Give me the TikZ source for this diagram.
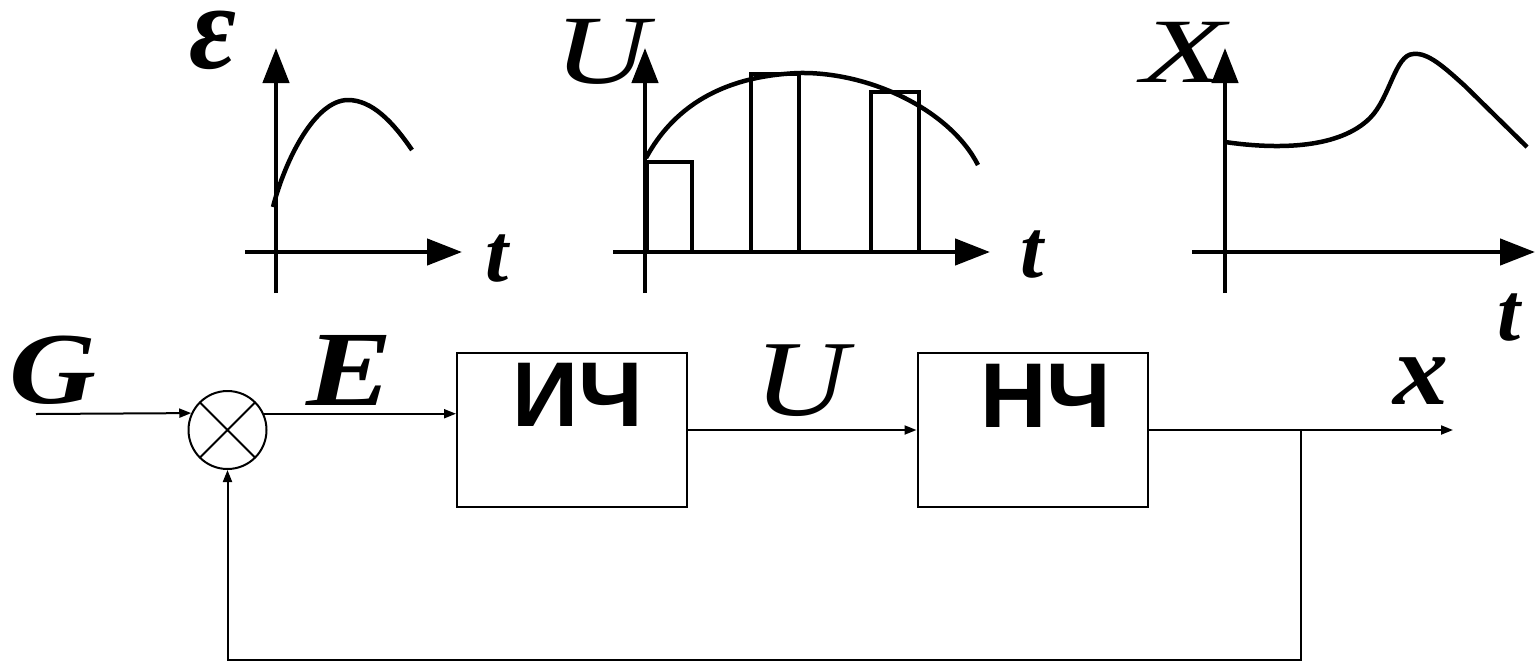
\documentclass[tikz,border=0pt]{standalone}
\usepackage{fontspec}
\newfontfamily\tms{Liberation Serif}
\newfontfamily\ars{Liberation Sans}
\usetikzlibrary{arrows.meta}
\newcommand\bilab[2]{\tms\bfseries\itshape\fontsize{#1}{#1}\selectfont\addfontfeature{FakeStretch=#2}}
\newcommand\itlab[2]{\tms\itshape\fontsize{#1}{#1}\selectfont\addfontfeature{FakeStretch=#2}}
\tikzset{
  gline/.style={line width=4.5pt},
  gaxis/.style={line width=4.5pt,-{Triangle[length=35pt,width=26pt]}},
  sarrow/.style={line width=2pt,-{Triangle[length=12pt,width=9pt]}},
  lbl/.style={inner sep=0pt,anchor=center},
  blk/.style={draw,line width=2pt,minimum width=230pt,minimum height=154pt,inner sep=0pt},
  blktxt/.style={inner sep=0pt,font=\ars\bfseries\fontsize{92}{96}\selectfont},
  sumnode/.style={draw,circle,line width=2pt,minimum size=78pt,inner sep=0pt,path picture={
    \draw[line width=2pt] (path picture bounding box.south west) -- (path picture bounding box.north east)
      (path picture bounding box.north west) -- (path picture bounding box.south east);}}
}
\begin{document}
\begin{tikzpicture}[x=1pt,y=-1pt]
\useasboundingbox (0,0) rectangle (1535,665);
% ---------- graph 1 (epsilon)
\draw[gaxis] (276,293) -- (276,48);
\draw[gaxis] (245,252) -- (462,252);
\draw[gline] (273,207) .. controls (285,160) and (315,100) .. (348,100) .. controls (372,100) and (393,122) .. (412,150);
\node[lbl,font=\bilab{122}{0.94}] (eps) at (213,40) {ε};
\node[lbl,font=\bilab{83}{1}] (t1) at (497,259) {t};
% ---------- graph 2 (U)
\draw[gline] (647,252) rectangle (692,162);
\draw[gline] (751,252) rectangle (799,74);
\draw[gline] (871,252) rectangle (919,92);
\draw[gaxis] (645,293) -- (645,48);
\draw[gaxis] (613,252) -- (990,252);
\draw[gline] (646,158) .. controls (680,95) and (740,75) .. (800,73) .. controls (870,72) and (950,110) .. (978,165);
\node[lbl,font=\itlab{98}{1.33}] (ulab) at (602,52) {U};
\node[lbl,font=\bilab{83}{1}] (t2) at (1032,255) {t};
% ---------- graph 3 (X)
\draw[gaxis] (1225,293) -- (1225,48);
\draw[gaxis] (1192,252) -- (1535,252);
\draw[gline] (1225,142) .. controls (1280,150) and (1340,148) .. (1370,118) .. controls (1390,98) and (1395,55) .. (1413,54) .. controls (1428,52) and (1445,68) .. (1465,86) -- (1527,147);
\node[lbl,font=\itlab{92}{1.5}] (xlab) at (1184,52) {X};
\node[lbl,font=\bilab{83}{1}] (t3) at (1509,318) {t};
% ---------- block diagram
\node[sumnode] (sum) at (227.5,430) {};
\node[blk] (ich) at (572,430) {};
\node[blk] (nch) at (1032.5,430) {};
\node[blktxt] (ichtxt) at (578,395) {ИЧ};
\node[blktxt] (nchtxt) at (1046,396) {НЧ};
\coordinate (in) at (36,414);
\coordinate (out) at (1453,430);
\coordinate (br) at (1301,430);
\coordinate (fb1) at (1301,660);
\coordinate (fb2) at (227.5,660);
\draw[sarrow] (in) -- (sum.155.8);
\draw[sarrow] (sum.24.2) -- (sum.24.2 -| ich.west);
\draw[sarrow] (ich.east) -- (nch.west);
\draw[sarrow] (nch.east) -- (out);
\draw[sarrow] (br) -- (fb1) -- (fb2) -- (sum.south);
\node[lbl,font=\bilab{102}{1.18}] (G) at (53,370) {G};
\node[lbl,font=\bilab{107}{1.21}] (E) at (350,370) {E};
\node[lbl,font=\itlab{108}{1.2}] (U) at (801,381) {U};
\node[lbl,font=\bilab{102}{1.08}] (x) at (1421,381) {x};
\end{tikzpicture}
\end{document}
